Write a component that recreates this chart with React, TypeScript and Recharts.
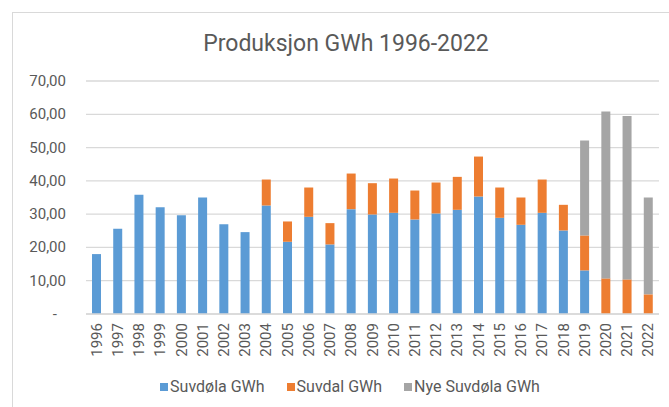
import React from 'react';
import { BarChart, Bar, XAxis, YAxis, CartesianGrid } from 'recharts';

const years = ['1996','1997','1998','1999','2000','2001','2002','2003','2004','2005','2006','2007','2008','2009','2010','2011','2012','2013','2014','2015','2016','2017','2018','2019','2020','2021','2022'];
const suvdola = [18.0,25.6,35.8,32.1,29.7,35.0,27.0,24.6,32.6,21.7,29.2,20.9,31.5,29.9,30.4,28.4,30.2,31.3,35.3,28.9,26.8,30.4,25.1,13.1,0,0,0];
const suvdal = [0,0,0,0,0,0,0,0,7.8,6.1,8.8,6.4,10.7,9.4,10.3,8.7,9.3,9.9,12.0,9.1,8.2,10.0,7.7,10.5,10.7,10.4,5.9];
const nyeSuvdola = [0,0,0,0,0,0,0,0,0,0,0,0,0,0,0,0,0,0,0,0,0,0,0,28.5,50.1,49.1,29.1];
const yTicks = [0,10,20,30,40,50,60,70];
const seriesNames = ['Suvdøla GWh','Suvdal GWh','Nye Suvdøla GWh'];
const colors = ['#5B9BD5','#ED7D31','#A5A5A5'];

const data = years.map((y, i) => ({ year: y, a: suvdola[i], b: suvdal[i], c: nyeSuvdola[i] }));

const FONT = 'Roboto, sans-serif';
const TEXT = '#595959';

const YTick = (props: any) => {
  const { x, y, payload } = props;
  const v = payload.value as number;
  const label = v === 0 ? '-' : v.toFixed(2).replace('.', ',');
  return (
    <text x={v === 0 ? x - 9 : x} y={y} textAnchor="end" dominantBaseline="central" fill={TEXT} fontSize={15} fontFamily={FONT}>{label}</text>
  );
};

const XTick = (props: any) => {
  const { x, y, payload } = props;
  return (
    <text x={x} y={y} transform={`rotate(-90, ${x}, ${y})`} textAnchor="end" dominantBaseline="central" fill={TEXT} fontSize={15} fontFamily={FONT}>{payload.value}</text>
  );
};

export default function App() {
  return (
    <div style={{ position: 'absolute', left: 0, top: 0, width: 669, height: 407, background: '#fff', overflow: 'hidden' }}>
      <div style={{ position: 'absolute', left: 12, top: 12, width: 700, height: 420, borderLeft: '1px solid #D9D9D9', borderTop: '1px solid #D9D9D9' }} />
      <div style={{ position: 'absolute', left: 0, top: 30, width: 692, textAlign: 'center', fontFamily: FONT, fontSize: 23, color: TEXT, lineHeight: '28px' }}>
        Produksjon GWh 1996-2022
      </div>
      <div style={{ position: 'absolute', left: 0, top: 0 }}>
        <BarChart width={669} height={407} data={data} margin={{ top: 81, right: 10, left: 0, bottom: 43 }} barSize={9}>
          <CartesianGrid vertical={false} stroke="#D9D9D9" strokeWidth={1.3} />
          <XAxis dataKey="year" interval={0} height={50} axisLine={{ stroke: '#D9D9D9', strokeWidth: 1.3 }} tickLine={false} tickSize={0} tickMargin={9} tick={<XTick />} />
          <YAxis domain={[0, 70]} ticks={yTicks} width={86} axisLine={false} tickLine={false} tickSize={0} tickMargin={20} tick={<YTick />} />
          <Bar dataKey="a" name={seriesNames[0]} stackId="s" fill={colors[0]} isAnimationActive={false} />
          <Bar dataKey="b" name={seriesNames[1]} stackId="s" fill={colors[1]} isAnimationActive={false} />
          <Bar dataKey="c" name={seriesNames[2]} stackId="s" fill={colors[2]} isAnimationActive={false} />
        </BarChart>
      </div>
      <div style={{ position: 'absolute', left: 0, top: 377, width: 700, display: 'flex', justifyContent: 'center', fontFamily: FONT, fontSize: 16, color: TEXT, lineHeight: '19px' }}>
        {seriesNames.map((n, i) => (
          <div key={n} style={{ display: 'flex', alignItems: 'center', marginRight: i < 2 ? 22 : 0 }}>
            <span style={{ display: 'inline-block', width: 8, height: 8, background: colors[i], marginRight: 2 }} />
            <span>{n}</span>
          </div>
        ))}
      </div>
    </div>
  );
}
